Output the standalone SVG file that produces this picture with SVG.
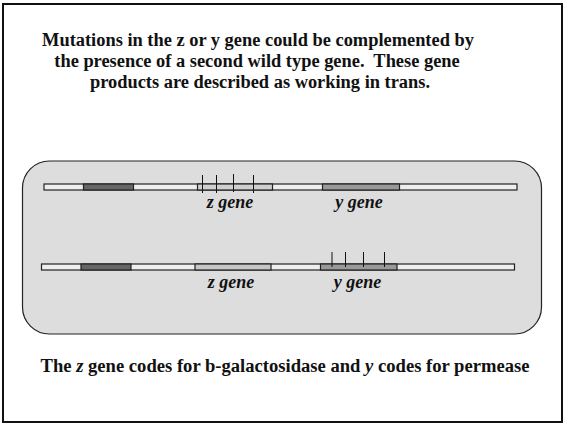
<svg xmlns="http://www.w3.org/2000/svg" width="564" height="424" viewBox="0 0 564 424">
<style>
.t{font-family:"Liberation Serif","Times New Roman",serif;font-weight:bold;font-size:18.4px;fill:#111;text-anchor:middle;white-space:pre}
.lab{font-family:"Liberation Serif","Times New Roman",serif;font-weight:bold;font-style:italic;font-size:18px;fill:#111;text-anchor:middle}
.bar{fill:#eeeeee;stroke:#222;stroke-width:1.2}
.dark{fill:#666666;stroke:#222;stroke-width:1.2}
.zg{fill:#cfcfcf;stroke:#222;stroke-width:1.2}
.yg{fill:#999999;stroke:#222;stroke-width:1.2}
.tick{stroke:#111;stroke-width:1}
</style>
<rect x="0" y="0" width="564" height="424" fill="#ffffff"/>
<rect x="3" y="4" width="559" height="418" fill="none" stroke="#111" stroke-width="2"/>
<g id="title">
<text class="t" x="258" y="46">Mutations in the z or y gene could be complemented by</text>
<text class="t" x="257" y="67" xml:space="preserve">the presence of a second wild type gene.  These gene</text>
<text class="t" x="260" y="88">products are described as working in trans.</text>
</g>
<g id="panel">
<rect x="22.5" y="161" width="519" height="173" rx="27" ry="27" fill="#dddddd" stroke="#222" stroke-width="1.2"/>
</g>
<g id="chromosome1">
<rect class="bar" x="44" y="184" width="473" height="6"/>
<rect class="dark" x="83.5" y="184" width="50" height="6"/>
<rect class="zg" x="197.5" y="184" width="75" height="6"/>
<rect class="yg" x="322.5" y="184" width="77" height="6"/>
<line class="tick" x1="202.5" y1="175" x2="202.5" y2="193"/>
<line class="tick" x1="216.5" y1="175" x2="216.5" y2="193"/>
<line class="tick" x1="233.5" y1="174" x2="233.5" y2="192"/>
<line class="tick" x1="253.5" y1="175" x2="253.5" y2="193"/>
<text class="lab" x="230" y="208">z gene</text>
<text class="lab" x="359" y="208">y gene</text>
</g>
<g id="chromosome2">
<rect class="bar" x="41.5" y="264" width="473" height="6"/>
<rect class="dark" x="81" y="264" width="50" height="6"/>
<rect class="zg" x="195" y="264" width="76" height="6" style="fill:#c6c6c6"/>
<rect class="yg" x="320.5" y="264" width="76.5" height="6"/>
<line class="tick" x1="332" y1="252" x2="332" y2="267"/>
<line class="tick" x1="345.5" y1="252" x2="345.5" y2="267"/>
<line class="tick" x1="363.5" y1="252" x2="363.5" y2="267"/>
<line class="tick" x1="384.5" y1="252" x2="384.5" y2="267"/>
<text class="lab" x="231" y="288">z gene</text>
<text class="lab" x="357.5" y="288">y gene</text>
</g>
<g id="caption">
<text class="t" x="285" y="372" style="font-size:18.6px">The <tspan font-style="italic">z</tspan> gene codes for b-galactosidase and <tspan font-style="italic">y</tspan> codes for permease</text>
</g>
</svg>
